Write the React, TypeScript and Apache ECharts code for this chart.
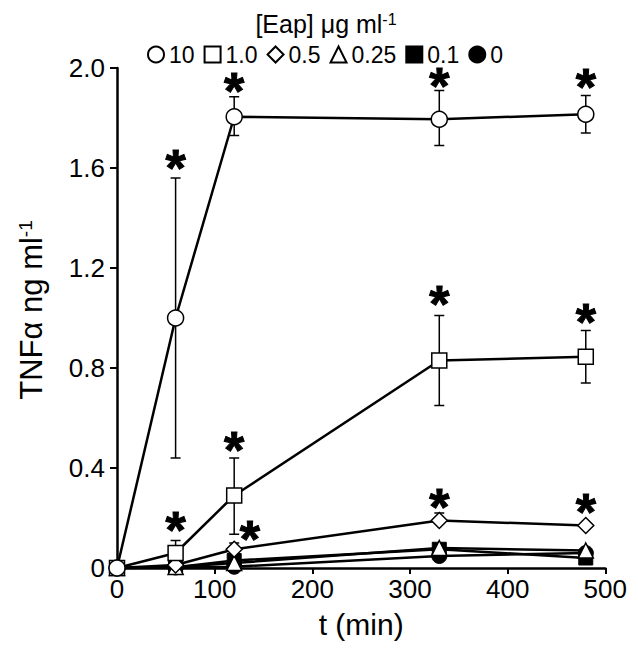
import React, { useEffect, useRef } from "react";
import * as echarts from "echarts";

const times = [0, 60, 120, 330, 480];
const seriesNames = ["10", "1.0", "0.5", "0.25", "0.1", "0"];
const s10 = [0, 1.0, 1.805, 1.795, 1.815];
const s1 = [0, 0.06, 0.29, 0.83, 0.845];
const s05 = [0, 0.012, 0.075, 0.19, 0.17];
const s025 = [0, 0.004, 0.02, 0.08, 0.07];
const s01 = [0, 0.003, 0.03, 0.075, 0.04];
const s0 = [0, 0.002, 0.005, 0.048, 0.06];

// [t, low, high]
const err10 = [[60, 0.44, 1.56], [120, 1.73, 1.885], [330, 1.69, 1.91], [480, 1.74, 1.89]];
const err1 = [[60, 0.06, 0.11], [120, 0.135, 0.44], [330, 0.65, 1.01], [480, 0.74, 0.95]];
const err05 = [[120, 0.075, 0.1], [330, 0.19, 0.22]];

// asterisk positions [t, y]
const stars = [
  [60, 1.623], [120, 1.933], [330, 1.952], [480, 1.948],
  [60, 0.175], [120, 0.496], [330, 1.08], [480, 1.01],
  [136, 0.14], [330, 0.27], [480, 0.25],
];

const xTicks = { min: 0, max: 500, interval: 100 };
const yTicks = { min: 0, max: 2.0, interval: 0.4 };

const FONT = "'Liberation Sans', Arial, sans-serif";

export default function App() {
  const ref = useRef<HTMLDivElement>(null);
  useEffect(() => {
    const chart = echarts.init(ref.current!, null, { renderer: "svg" });
    const zip = (ys: number[]) => times.map((t, i) => [t, ys[i]]);
    const open = { color: "#fff", borderColor: "#000", borderWidth: 1.5 };
    const filled = { color: "#000", borderColor: "#000", borderWidth: 1 };
    const lineSeries = (name: string, ys: number[], symbol: string, size: number, style: any, z: number) => ({
      type: "line",
      name,
      data: zip(ys),
      symbol,
      symbolSize: size,
      showSymbol: true,
      lineStyle: { color: "#000", width: 2.5 },
      itemStyle: style,
      z,
    });
    const errSeries = (data: number[][]) => ({
      type: "custom",
      data,
      z: 1,
      renderItem: (params: any, api: any) => {
        const x = api.value(0);
        const lo = api.coord([x, api.value(1)]);
        const hi = api.coord([x, api.value(2)]);
        const w = 5;
        const st = { stroke: "#000", lineWidth: 1.5 };
        return {
          type: "group",
          children: [
            { type: "line", shape: { x1: lo[0], y1: lo[1], x2: hi[0], y2: hi[1] }, style: st },
            { type: "line", shape: { x1: lo[0] - w, y1: lo[1], x2: lo[0] + w, y2: lo[1] }, style: st },
            { type: "line", shape: { x1: hi[0] - w, y1: hi[1], x2: hi[0] + w, y2: hi[1] }, style: st },
          ],
        };
      },
    });
    chart.setOption({
      animation: false,
      textStyle: { fontFamily: FONT },
      title: {
        text: "[Eap] μg ml{sup|-1}",
        left: 318,
        top: 3,
        padding: 0,
        textAlign: "center",
        textStyle: {
          fontFamily: FONT,
          fontSize: 25,
          fontWeight: "normal",
          color: "#000",
          rich: {
            sup: { fontSize: 16, verticalAlign: "top", lineHeight: 16, fontFamily: FONT, color: "#000" },
          },
        },
      },
      legend: {
        selectedMode: false,
        top: 30,
        left: 134,
        itemWidth: 16,
        itemHeight: 16,
        itemGap: 9,
        textStyle: { fontFamily: FONT, fontSize: 23, color: "#000" },
        data: [
          { name: "10", icon: "circle" },
          { name: "1.0", icon: "rect" },
          { name: "0.5", icon: "diamond" },
          { name: "0.25", icon: "triangle" },
          { name: "0.1", icon: "rect" },
          { name: "0", icon: "circle" },
        ],
      },
      grid: { left: 104, right: 23, top: 60, bottom: 72 },
      xAxis: {
        type: "value",
        ...xTicks,
        name: "t (min)",
        nameLocation: "middle",
        nameGap: 41,
        nameTextStyle: { fontFamily: FONT, fontSize: 30, color: "#000" },
        axisLine: { show: true, lineStyle: { color: "#000", width: 2.5 } },
        axisTick: { show: true, length: 6, lineStyle: { color: "#000", width: 2 } },
        axisLabel: { fontFamily: FONT, fontSize: 26, color: "#000", margin: 8 },
        splitLine: { show: false },
      },
      yAxis: {
        type: "value",
        ...yTicks,
        name: "TNFα ng ml{sup|-1}",
        nameLocation: "middle",
        nameRotate: 90,
        nameGap: 70,
        nameTextStyle: {
          fontFamily: FONT,
          fontSize: 31,
          color: "#000",
          padding: [0, 0, 0, 16],
          rich: {
            sup: { fontSize: 19, verticalAlign: "top", lineHeight: 18, fontFamily: FONT, color: "#000" },
          },
        },
        axisLine: { show: true, lineStyle: { color: "#000", width: 2.5 } },
        axisTick: { show: true, length: 7, lineStyle: { color: "#000", width: 2 } },
        axisLabel: {
          fontFamily: FONT,
          fontSize: 26,
          color: "#000",
          margin: 12,
          formatter: (v: number) => (v === 0 ? "0" : v.toFixed(1)),
        },
        splitLine: { show: false },
      },
      series: [
        errSeries(err10),
        errSeries(err1),
        errSeries(err05),
        lineSeries("0", s0, "circle", 15, filled, 3),
        lineSeries("0.1", s01, "rect", 14, filled, 4),
        lineSeries("0.25", s025, "triangle", 15, open, 5),
        lineSeries("0.5", s05, "diamond", 16, open, 6),
        lineSeries("1.0", s1, "rect", 15, open, 7),
        lineSeries("10", s10, "circle", 16, open, 8),
        {
          type: "scatter",
          data: stars,
          symbol: "circle",
          symbolSize: 2,
          itemStyle: { color: "rgba(0,0,0,0)" },
          z: 9,
          label: {
            show: true,
            position: "inside",
            formatter: "*",
            fontFamily: FONT,
            fontWeight: "bold",
            fontSize: 52,
            lineHeight: 22,
            color: "#000",
            opacity: 1,
            textBorderColor: "#000",
            textBorderWidth: 1,
            offset: [0, 6],
          },
        },
      ],
    });
    return () => chart.dispose();
  }, []);
  return <div ref={ref} style={{ width: 622, height: 636 }} />;
}
